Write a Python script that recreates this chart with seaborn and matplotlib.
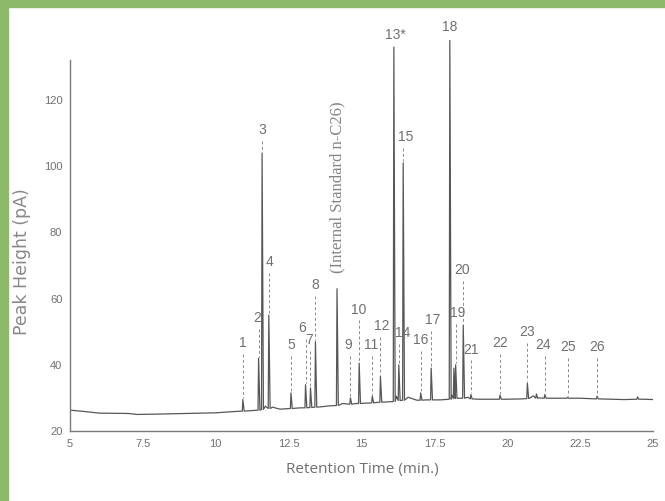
import numpy as np
import pandas as pd
import matplotlib
matplotlib.use("Agg")
import matplotlib.pyplot as plt
from matplotlib.patches import Rectangle
import seaborn as sns

# ---------------- data ----------------
# baseline anchor points (retention time, pA)
base_t = [5.0, 5.6, 6.0, 7.0, 7.3, 8.0, 9.0, 10.0, 10.5, 10.85, 11.3, 11.7, 11.95, 12.2,
          12.9, 13.6, 13.9, 14.35, 14.8, 15.1, 15.5, 15.9, 16.2, 16.6, 16.9, 17.2,
          17.7, 18.1, 18.65, 19.0, 20.0, 20.5, 20.9, 21.1, 21.6, 22.5, 23.5, 24.0,
          24.7, 25.0]
base_y = [26.3, 25.8, 25.4, 25.3, 25.0, 25.1, 25.3, 25.5, 25.8, 26.0, 26.2, 27.5, 27.2, 26.6,
          27.0, 27.3, 27.6, 28.3, 28.3, 28.4, 28.6, 28.8, 30.5, 30.2, 29.3, 29.4,
          29.4, 30.8, 30.2, 29.6, 29.6, 29.7, 30.6, 30.0, 29.9, 29.9, 29.6, 29.5,
          29.6, 29.5]

# peaks: retention time (min), apex height (pA), foot level (pA)
peak_rt = [10.93, 11.47, 11.59, 11.82, 12.58, 13.08, 13.25, 13.42, 14.16, 14.62, 14.92,
           15.37, 15.65, 16.11, 16.28, 16.43, 17.03, 17.39, 18.03, 18.17, 18.23, 18.49,
           18.75, 19.75, 20.69, 21.0, 21.29, 22.07, 23.08, 24.47]
peak_h = [29.5, 42.0, 104.0, 55.0, 31.5, 34.0, 33.0, 47.0, 63.0, 30.0, 40.5,
          30.5, 36.5, 136.0, 40.0, 101.0, 31.5, 39.0, 138.0, 39.0, 40.0, 52.0,
          31.0, 30.8, 34.5, 31.2, 31.0, 30.2, 30.5, 30.3]
peak_base = [26.0, 26.3, 26.5, 26.8, 26.8, 27.0, 27.1, 27.2, 27.7, 28.1, 28.3,
             28.5, 28.7, 28.9, 29.2, 29.3, 29.3, 29.4, 29.6, 29.8, 29.9, 29.9,
             29.7, 29.6, 29.8, 29.9, 29.9, 29.9, 29.7, 29.6]

# peak labels: text, label position (time, pA), apex they point to
label_txt = ["1", "2", "3", "4", "5", "6", "7", "8", "9", "10", "11", "12", "13*",
             "14", "15", "16", "17", "18", "19", "20", "21", "22", "23", "24", "25", "26"]
label_t = [10.93, 11.43, 11.59, 11.85, 12.58, 12.98, 13.22, 13.42, 14.55, 14.92, 15.33,
           15.69, 16.15, 16.40, 16.50, 17.03, 17.43, 18.03, 18.31, 18.46, 18.75, 19.75,
           20.69, 21.24, 22.07, 23.08]
label_y = [46.6, 54.1, 110.9, 71.0, 46.0, 51.1, 47.5, 64.1, 46.0, 56.6, 46.0,
           51.7, 139.6, 49.6, 108.8, 47.5, 53.5, 142.0, 55.6, 68.6, 44.5, 46.6,
           49.9, 46.0, 45.4, 45.4]
leader_t = [10.93, 11.47, 11.59, 11.82, 12.58, 13.08, 13.25, 13.42, 14.62, 14.92, 15.37,
            15.65, 16.11, 16.28, 16.43, 17.03, 17.39, 18.03, 18.23, 18.49, 18.75, 19.75,
            20.69, 21.29, 22.07, 23.08]
leader_end = [29.5, 42.0, 104.0, 55.0, 31.5, 34.0, 33.0, 47.0, 30.0, 40.5, 30.5,
              36.5, 136.0, 40.0, 101.0, 31.5, 39.0, 138.0, 40.0, 52.0, 31.0, 30.8,
              34.5, 31.0, 30.2, 30.5]

is_label = "(Internal Standard n-C26)"
is_rt = 14.16
is_label_y = 93.7

x_ticks = [5, 7.5, 10, 12.5, 15, 17.5, 20, 22.5, 25]
x_ticklabels = ["5", "7.5", "10", "12.5", "15", "17.5", "20", "22.5", "25"]
y_ticks = [20, 40, 60, 80, 100, 120]

# ---------------- build the trace vertices ----------------
lead_w, tail_w = 0.02, 0.045
pts_t, pts_y = [], []
for t, y in zip(base_t, base_y):
    if all(not (r - lead_w - 0.005 <= t <= r + tail_w + 0.005) for r in peak_rt):
        pts_t.append(t); pts_y.append(y)
for r, h, b in zip(peak_rt, peak_h, peak_base):
    pts_t += [r - lead_w, r, r + tail_w]
    pts_y += [b, h, b]
trace = pd.DataFrame({"time": pts_t, "pA": pts_y}).sort_values("time")

# ---------------- figure ----------------
sns.set_style("white")
plt.rcParams["font.family"] = ["Liberation Sans", "DejaVu Sans"]

W, H = 665, 501
fig = plt.figure(figsize=(W / 100, H / 100), dpi=100)
fig.patch.set_facecolor("white")
green = "#8db96b"
fig.add_artist(Rectangle((0, 1 - 7 / H), 1, 7 / H, transform=fig.transFigure,
                         color=green, zorder=0))
fig.add_artist(Rectangle((0, 0), 8 / W, 1, transform=fig.transFigure,
                         color=green, zorder=0))

x0, x1 = 70 / W, 653 / W
y_bot = 1 - 431 / H
ppu = 3.31  # pixels per pA
ytop_val = 143
ax = fig.add_axes([x0, y_bot, x1 - x0, (ytop_val - 20) * ppu / H])
ax.set_facecolor("white")

line_col = "#575757"
axis_col = "#7a7a7a"
text_col = "#707070"

sns.lineplot(data=trace, x="time", y="pA", ax=ax, estimator=None, sort=False,
             color=line_col, linewidth=0.9)

# leader lines from labels to peaks
for lt, ly, le in zip(leader_t, label_y, leader_end):
    top = ly - 3.2
    if top > le + 1:
        ax.plot([lt, lt], [top, le + 0.5], color="#8a8a8a", lw=0.7,
                linestyle=(0, (3, 2.5)), clip_on=False)

for txt, t, y in zip(label_txt, label_t, label_y):
    ax.text(t, y, txt, ha="center", va="center", fontsize=10, color=text_col,
            clip_on=False)

ax.text(is_rt, is_label_y, is_label, rotation=90, ha="center", va="center",
        fontsize=12, color="#858585", family=["Liberation Serif", "DejaVu Serif"])

ax.set_xlim(5, 25)
ax.set_ylim(20, ytop_val)
ax.set_xticks(x_ticks)
ax.set_xticklabels(x_ticklabels)
ax.set_yticks(y_ticks)
ax.set_xlabel("")
ax.set_ylabel("")

for s in ["top", "right"]:
    ax.spines[s].set_visible(False)
ax.spines["left"].set_bounds(20, 132)
for s in ["left", "bottom"]:
    ax.spines[s].set_color(axis_col)
    ax.spines[s].set_linewidth(1.0)
ax.tick_params(axis="both", direction="out", length=4, width=0.8, color=axis_col,
               labelcolor=text_col, labelsize=8, pad=1.5)

fig.text(362 / W, 1 - 470 / H, "Retention Time (min.)", ha="center", va="center",
         fontsize=11, color=text_col, family=["Open Sans", "DejaVu Sans"])
fig.text(22 / W, 1 - 262 / H, "Peak Height (pA)", ha="center", va="center",
         rotation=90, fontsize=12.5, color="#888888", family=["DejaVu Sans"])

fig.savefig("out.png", dpi=100, facecolor=fig.get_facecolor())
